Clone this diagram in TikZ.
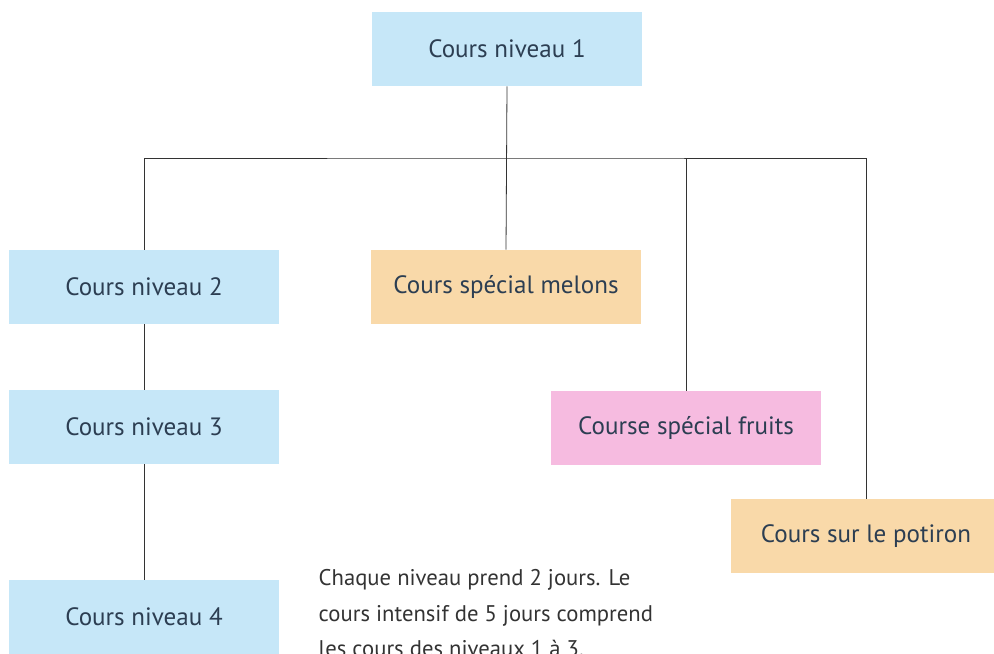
\documentclass[tikz,border=0pt]{standalone}
\usepackage{fontspec}
\setmainfont{PT Sans}
\usetikzlibrary{positioning}
\definecolor{boxblue}{HTML}{C6E7F8}
\definecolor{boxorange}{HTML}{F9D9A9}
\definecolor{boxpink}{HTML}{F6BBE0}
\definecolor{boxtext}{HTML}{2C3E52}
\definecolor{notetext}{HTML}{333333}
\begin{document}
\begin{tikzpicture}[
    x=0.75pt, y=-0.75pt,
    font=\fontsize{18.8}{22}\selectfont,
    course/.style={minimum width=203pt, minimum height=55.5pt,
                   inner sep=0pt, align=center, text=boxtext},
    link/.style={draw=black!80, line width=0.6pt},
  ]
  \useasboundingbox (0,0) rectangle (994,653);
  \clip (0,0) rectangle (994,653);
  \node[course, fill=boxblue]   (niv1)    at (507,49)  {Cours niveau 1};
  \node[course, fill=boxblue]   (niv2)    at (144,287) {Cours niveau 2};
  \node[course, fill=boxorange] (melons)  at (506,287) {Cours spécial melons};
  \node[course, fill=boxblue]   (niv3)    at (144,427) {Cours niveau 3};
  \node[course, fill=boxpink]   (fruits)  at (686,428) {Course spécial fruits};
  \node[course, fill=boxorange] (potiron) at (866,536) {Cours sur le potiron};
  \node[course, fill=boxblue]   (niv4)    at (144,617) {Cours niveau 4};
  \node[anchor=north west, align=left, text=notetext,
        font=\fontsize{17}{26.5}\selectfont] (note) at (314,565)
    {Chaque niveau prend 2 jours. Le\\
     cours intensif de 5 jours comprend\\
     les cours des niveaux 1 à 3.};
  % branches
  \coordinate (bus) at (506,158);
  \draw[link] (niv1.south) -- (melons.north);
  \draw[link] (niv2.north) |- (bus) -| (potiron.north);
  \draw[link] (fruits.north) -- (fruits.north |- bus);
  \draw[link] (niv2.south) -- (niv3.north);
  \draw[link] (niv3.south) -- (niv4.north);
\end{tikzpicture}
\end{document}
